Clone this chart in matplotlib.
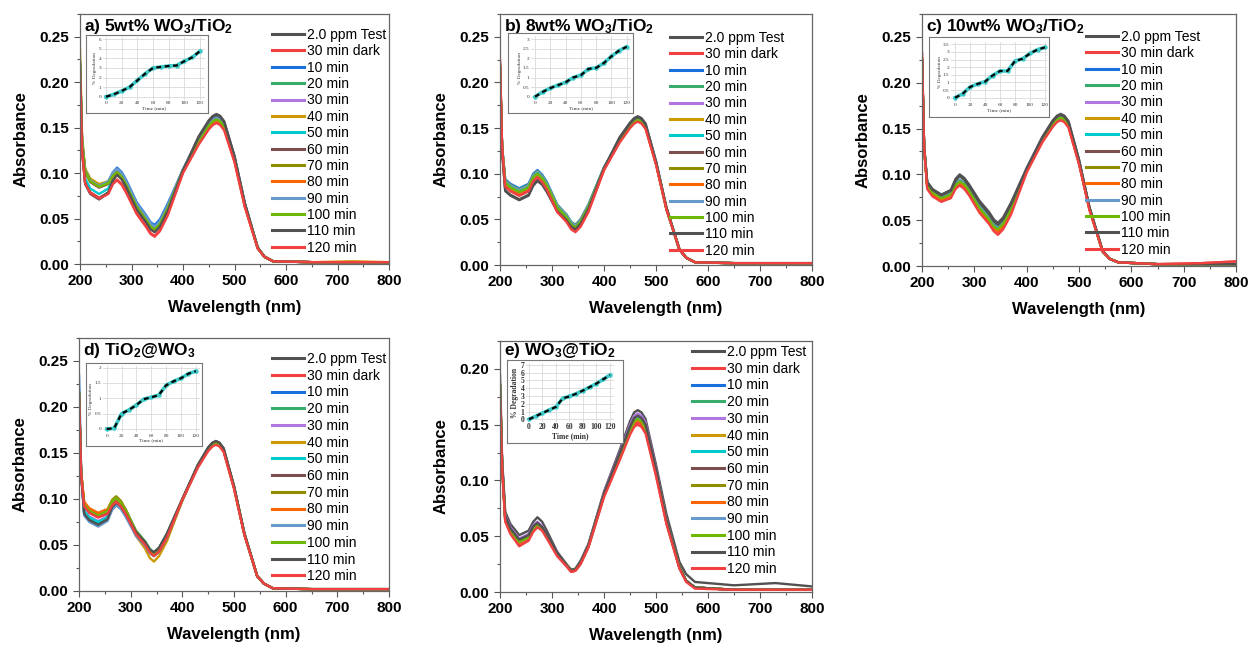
import matplotlib.pyplot as plt
from matplotlib.ticker import MultipleLocator, FormatStrFormatter

plt.rcParams['font.family'] = 'Liberation Sans'
plt.rcParams['mathtext.fontset'] = 'custom'
plt.rcParams['mathtext.rm'] = 'Liberation Sans'
plt.rcParams['mathtext.bf'] = 'Liberation Sans:bold'
plt.rcParams['mathtext.default'] = 'bf'

wl = [200, 204, 210, 220, 237, 255, 264, 272, 281, 290, 310, 328, 337, 345, 355, 370,
      400, 430, 450, 458, 465, 472, 480, 500, 520, 545, 558, 575, 650, 730, 800]

labels = ['2.0 ppm Test', '30 min dark', '10 min', '20 min', '30 min', '40 min',
          '50 min', '60 min', '70 min', '80 min', '90 min', '100 min', '110 min',
          '120 min']
colors = ['#515151', '#F14040', '#1A6FDF', '#37AD6B', '#B177DE', '#CC9900',
          '#00CBCC', '#7D4E4E', '#8E8E00', '#FB6501', '#6699CC', '#6FB802',
          '#515151', '#F14040']

abs_a = [
    [.215, .125, .088, .077, .071, .078, .093, .099, .094, .085, .061, .047, .039, .036, .042, .059, .103, .140, .158, .163, .165, .163, .157, .119, .067, .018, .008, .003, .002, .002, .002],
    [.212, .125, .090, .079, .073, .078, .089, .093, .088, .079, .056, .042, .034, .031, .037, .054, .101, .132, .149, .154, .156, .154, .148, .113, .063, .017, .008, .003, .002, .002, .002],
    [.222, .135, .103, .092, .086, .091, .101, .106, .101, .092, .068, .054, .046, .043, .049, .066, .104, .137, .155, .160, .162, .160, .154, .117, .066, .018, .008, .003, .002, .002, .002],
    [.220, .134, .102, .091, .085, .090, .099, .103, .098, .089, .065, .051, .043, .040, .046, .063, .104, .136, .154, .159, .161, .159, .153, .116, .066, .018, .008, .003, .002, .002, .002],
    [.220, .134, .102, .091, .085, .089, .099, .103, .098, .089, .065, .051, .043, .040, .046, .063, .104, .136, .154, .159, .161, .159, .153, .116, .066, .018, .008, .003, .002, .002, .002],
    [.237, .140, .105, .094, .088, .091, .098, .101, .096, .087, .063, .049, .041, .038, .044, .061, .103, .135, .153, .158, .160, .158, .152, .116, .065, .018, .008, .003, .002, .003, .002],
    [.218, .130, .094, .083, .077, .083, .095, .100, .095, .086, .063, .049, .041, .038, .044, .061, .103, .135, .153, .158, .160, .158, .152, .116, .065, .018, .008, .003, .002, .002, .002],
    [.220, .133, .101, .090, .084, .088, .097, .101, .096, .087, .063, .049, .041, .038, .044, .061, .103, .135, .153, .158, .160, .158, .152, .116, .065, .018, .008, .003, .002, .002, .002],
    [.220, .134, .103, .092, .086, .090, .097, .100, .095, .086, .062, .048, .040, .037, .043, .060, .103, .134, .152, .157, .159, .157, .151, .115, .065, .018, .008, .003, .002, .002, .002],
    [.218, .133, .102, .091, .085, .089, .096, .099, .094, .085, .061, .047, .039, .036, .042, .059, .102, .133, .151, .156, .158, .156, .150, .114, .064, .018, .008, .003, .002, .002, .002],
    [.222, .135, .103, .092, .086, .091, .101, .105, .100, .091, .067, .053, .045, .041, .047, .064, .104, .136, .154, .159, .161, .159, .153, .116, .066, .018, .008, .003, .002, .002, .002],
    [.220, .134, .102, .091, .085, .089, .097, .101, .096, .087, .063, .049, .041, .038, .044, .061, .103, .134, .152, .157, .159, .157, .151, .115, .065, .018, .008, .003, .002, .002, .002],
    [.215, .126, .089, .078, .072, .079, .092, .098, .093, .084, .060, .046, .038, .035, .041, .058, .103, .139, .157, .162, .164, .162, .156, .118, .067, .018, .008, .003, .002, .002, .002],
    [.212, .124, .089, .078, .072, .077, .088, .092, .087, .078, .055, .041, .033, .030, .036, .053, .100, .131, .148, .153, .155, .153, .147, .112, .063, .017, .008, .003, .002, .002, .002],
]

abs_b = [
    [.215, .125, .081, .076, .071, .076, .087, .092, .088, .080, .059, .049, .042, .039, .045, .061, .106, .140, .156, .161, .163, .161, .155, .114, .063, .017, .008, .003, .002, .002, .002],
    [.222, .128, .086, .081, .076, .081, .092, .096, .091, .083, .059, .048, .040, .037, .043, .059, .104, .135, .151, .156, .158, .156, .150, .111, .061, .017, .008, .003, .002, .002, .002],
    [.218, .130, .094, .089, .084, .089, .100, .104, .099, .091, .066, .055, .047, .044, .050, .066, .107, .137, .153, .158, .160, .158, .152, .112, .062, .017, .008, .003, .002, .002, .002],
    [.218, .130, .093, .088, .083, .088, .099, .103, .098, .090, .066, .055, .047, .044, .050, .066, .107, .137, .153, .158, .160, .158, .152, .112, .062, .017, .008, .003, .002, .002, .002],
    [.218, .129, .092, .087, .082, .087, .098, .102, .097, .089, .065, .054, .046, .043, .049, .065, .106, .137, .153, .158, .160, .158, .152, .112, .062, .017, .008, .003, .002, .002, .002],
    [.218, .129, .091, .086, .081, .086, .097, .101, .096, .088, .064, .053, .045, .042, .048, .064, .106, .137, .153, .158, .160, .158, .152, .112, .062, .017, .008, .003, .002, .002, .002],
    [.218, .129, .091, .086, .081, .086, .097, .101, .096, .088, .064, .053, .045, .042, .048, .064, .106, .137, .153, .158, .160, .158, .152, .112, .062, .017, .008, .003, .002, .002, .002],
    [.218, .128, .089, .084, .079, .084, .095, .099, .094, .086, .062, .051, .044, .041, .047, .063, .106, .137, .153, .158, .160, .158, .152, .112, .062, .017, .008, .003, .002, .002, .002],
    [.218, .128, .090, .085, .080, .085, .096, .100, .095, .087, .063, .052, .044, .041, .047, .063, .105, .136, .152, .157, .159, .157, .151, .111, .062, .017, .008, .003, .002, .002, .002],
    [.220, .128, .088, .083, .078, .083, .094, .098, .093, .085, .061, .050, .042, .039, .045, .061, .105, .136, .152, .157, .159, .157, .151, .111, .062, .017, .008, .003, .002, .002, .002],
    [.218, .128, .090, .085, .080, .085, .096, .100, .095, .087, .063, .052, .044, .041, .047, .063, .105, .137, .153, .158, .160, .158, .152, .112, .062, .017, .008, .003, .002, .002, .002],
    [.218, .128, .090, .085, .080, .085, .096, .100, .095, .087, .063, .052, .044, .041, .047, .063, .105, .136, .152, .157, .159, .157, .151, .111, .062, .017, .008, .003, .002, .002, .002],
    [.215, .125, .082, .077, .072, .077, .088, .093, .089, .081, .059, .049, .042, .039, .045, .061, .106, .139, .155, .160, .162, .160, .154, .113, .063, .017, .008, .003, .002, .002, .002],
    [.225, .130, .086, .081, .076, .081, .092, .096, .091, .083, .058, .047, .039, .036, .042, .058, .104, .134, .150, .155, .157, .155, .149, .110, .061, .017, .008, .003, .002, .002, .002],
]

abs_c = [
    [.225, .130, .092, .084, .078, .083, .095, .100, .096, .089, .071, .059, .051, .047, .053, .069, .107, .141, .159, .164, .166, .164, .158, .116, .064, .017, .008, .004, .002, .002, .002],
    [.232, .132, .086, .078, .072, .077, .087, .091, .087, .080, .061, .049, .041, .037, .043, .059, .103, .136, .153, .158, .160, .158, .152, .112, .062, .016, .008, .004, .002, .003, .005],
    [.225, .130, .090, .082, .076, .080, .089, .093, .090, .083, .065, .053, .045, .042, .048, .064, .105, .139, .156, .161, .163, .161, .155, .114, .063, .016, .008, .004, .002, .002, .002],
    [.225, .130, .090, .082, .076, .080, .090, .094, .091, .084, .066, .054, .046, .042, .048, .064, .105, .139, .156, .161, .163, .161, .155, .114, .063, .016, .008, .004, .002, .002, .002],
    [.225, .130, .089, .081, .075, .079, .089, .093, .090, .083, .064, .052, .044, .041, .047, .063, .105, .139, .156, .161, .163, .161, .155, .114, .063, .016, .008, .004, .002, .002, .002],
    [.225, .129, .088, .080, .074, .078, .088, .092, .089, .082, .063, .051, .043, .040, .046, .062, .104, .138, .155, .160, .162, .160, .154, .113, .063, .016, .008, .004, .002, .002, .002],
    [.225, .130, .089, .081, .075, .079, .089, .093, .090, .083, .064, .052, .044, .041, .047, .063, .105, .138, .155, .160, .162, .160, .154, .113, .063, .016, .008, .004, .002, .002, .002],
    [.225, .129, .088, .080, .074, .078, .088, .092, .089, .082, .063, .051, .043, .040, .046, .062, .104, .138, .155, .160, .162, .160, .154, .113, .063, .016, .008, .004, .002, .002, .002],
    [.225, .129, .087, .079, .073, .077, .087, .091, .088, .081, .062, .050, .042, .039, .045, .061, .104, .137, .154, .159, .161, .159, .153, .113, .062, .016, .008, .004, .002, .002, .002],
    [.225, .128, .086, .078, .072, .076, .086, .090, .087, .080, .061, .049, .041, .038, .044, .060, .104, .137, .154, .159, .161, .159, .153, .113, .062, .016, .008, .004, .002, .002, .002],
    [.225, .130, .089, .081, .075, .079, .089, .093, .090, .083, .064, .052, .044, .041, .047, .063, .105, .138, .155, .160, .162, .160, .154, .113, .063, .016, .008, .004, .002, .002, .002],
    [.225, .129, .088, .080, .074, .078, .088, .092, .089, .082, .063, .051, .043, .040, .046, .062, .104, .138, .155, .160, .162, .160, .154, .113, .063, .016, .008, .004, .002, .002, .002],
    [.225, .130, .091, .083, .077, .082, .093, .098, .094, .087, .069, .057, .049, .045, .051, .067, .106, .140, .158, .163, .165, .163, .157, .116, .064, .017, .008, .004, .002, .002, .002],
    [.232, .131, .084, .076, .070, .074, .084, .088, .084, .077, .058, .046, .038, .034, .040, .056, .102, .135, .152, .157, .159, .157, .151, .111, .061, .016, .008, .004, .002, .003, .005],
]

abs_d = [
    [.215, .128, .086, .079, .074, .079, .091, .096, .092, .084, .064, .053, .045, .042, .047, .062, .100, .137, .156, .161, .163, .161, .155, .114, .063, .016, .008, .003, .002, .002, .002],
    [.210, .128, .092, .085, .080, .084, .093, .097, .092, .084, .062, .051, .043, .039, .044, .059, .099, .135, .153, .158, .160, .158, .152, .112, .062, .016, .008, .003, .002, .002, .002],
    [.235, .135, .083, .076, .071, .077, .089, .094, .090, .082, .062, .051, .043, .040, .045, .060, .099, .136, .154, .159, .161, .159, .153, .113, .062, .016, .008, .003, .002, .002, .002],
    [.205, .126, .095, .088, .083, .088, .098, .102, .097, .089, .066, .054, .046, .042, .047, .062, .099, .136, .154, .159, .161, .159, .153, .113, .062, .016, .008, .003, .002, .002, .002],
    [.215, .129, .088, .081, .076, .081, .092, .096, .092, .084, .062, .051, .043, .040, .045, .060, .099, .136, .154, .159, .161, .159, .153, .113, .062, .016, .008, .003, .002, .002, .002],
    [.215, .129, .094, .087, .082, .087, .097, .101, .096, .086, .060, .046, .036, .032, .038, .054, .098, .136, .154, .159, .161, .159, .153, .113, .062, .016, .008, .003, .002, .002, .002],
    [.215, .129, .087, .080, .075, .080, .092, .097, .092, .084, .062, .050, .042, .038, .043, .058, .099, .136, .154, .159, .161, .159, .153, .113, .062, .016, .008, .003, .002, .002, .002],
    [.215, .129, .093, .086, .081, .086, .096, .100, .095, .086, .063, .050, .042, .038, .043, .058, .099, .136, .154, .159, .161, .159, .153, .113, .062, .016, .008, .003, .002, .002, .002],
    [.215, .129, .095, .088, .083, .088, .099, .103, .098, .089, .065, .053, .044, .040, .045, .060, .099, .136, .154, .159, .161, .159, .153, .113, .062, .016, .008, .003, .002, .002, .002],
    [.215, .130, .097, .090, .085, .089, .097, .101, .096, .087, .064, .051, .043, .039, .044, .059, .099, .136, .154, .159, .161, .159, .153, .113, .062, .016, .008, .003, .002, .002, .002],
    [.220, .130, .082, .075, .070, .076, .088, .093, .089, .081, .060, .049, .041, .038, .043, .058, .099, .136, .154, .159, .161, .159, .153, .113, .062, .016, .008, .003, .002, .002, .002],
    [.215, .129, .094, .087, .082, .087, .097, .101, .096, .087, .064, .051, .043, .039, .044, .059, .099, .136, .154, .159, .161, .159, .153, .113, .062, .016, .008, .003, .002, .002, .002],
    [.215, .128, .084, .077, .072, .078, .091, .096, .092, .084, .064, .053, .045, .042, .047, .062, .100, .137, .156, .161, .163, .161, .155, .114, .063, .016, .008, .003, .002, .002, .002],
    [.210, .128, .092, .085, .080, .084, .093, .097, .092, .084, .062, .050, .042, .038, .043, .058, .099, .134, .152, .157, .159, .157, .151, .111, .061, .016, .008, .003, .002, .002, .002],
]

abs_e = [
    [.195, .120, .072, .061, .051, .055, .063, .067, .063, .055, .036, .025, .020, .021, .028, .043, .090, .127, .153, .161, .163, .161, .155, .114, .070, .027, .016, .009, .006, .008, .005],
    [.175, .112, .064, .053, .042, .047, .055, .059, .056, .049, .033, .023, .018, .019, .025, .040, .086, .119, .143, .150, .152, .150, .144, .105, .062, .022, .010, .004, .002, .002, .002],
    [.185, .115, .067, .056, .046, .050, .058, .061, .058, .051, .034, .024, .019, .020, .026, .041, .088, .123, .147, .155, .157, .155, .149, .109, .064, .022, .010, .004, .002, .002, .002],
    [.185, .115, .067, .056, .046, .050, .058, .061, .058, .051, .034, .024, .019, .020, .026, .041, .088, .123, .147, .155, .157, .155, .149, .109, .064, .022, .010, .004, .002, .002, .002],
    [.185, .116, .069, .058, .048, .052, .060, .063, .059, .052, .035, .024, .019, .020, .027, .042, .089, .125, .150, .158, .160, .158, .152, .111, .065, .022, .010, .004, .002, .002, .002],
    [.185, .115, .066, .055, .045, .049, .057, .060, .057, .050, .034, .024, .019, .020, .026, .041, .087, .121, .145, .153, .155, .153, .147, .108, .063, .022, .010, .004, .002, .002, .002],
    [.185, .115, .066, .055, .045, .049, .057, .060, .057, .050, .034, .024, .019, .020, .026, .041, .087, .121, .145, .153, .155, .153, .147, .108, .063, .022, .010, .004, .002, .002, .002],
    [.185, .115, .067, .056, .046, .050, .058, .061, .058, .051, .034, .024, .019, .020, .026, .041, .088, .123, .147, .155, .157, .155, .149, .109, .064, .022, .010, .004, .002, .002, .002],
    [.185, .115, .066, .055, .045, .049, .057, .060, .057, .050, .034, .024, .019, .020, .026, .041, .087, .121, .145, .153, .155, .153, .147, .108, .063, .022, .010, .004, .002, .002, .002],
    [.185, .115, .065, .054, .044, .049, .057, .060, .057, .050, .034, .024, .019, .020, .026, .041, .087, .121, .144, .152, .154, .152, .146, .107, .063, .022, .010, .004, .002, .002, .002],
    [.185, .115, .066, .055, .045, .049, .057, .060, .057, .050, .034, .024, .019, .020, .026, .041, .087, .122, .146, .154, .156, .154, .148, .108, .063, .022, .010, .004, .002, .002, .002],
    [.185, .115, .066, .055, .045, .049, .057, .060, .057, .050, .034, .024, .019, .020, .026, .041, .087, .121, .145, .153, .155, .153, .147, .108, .063, .022, .010, .004, .002, .002, .002],
    [.185, .116, .068, .057, .047, .051, .059, .062, .058, .052, .035, .024, .019, .020, .027, .042, .088, .124, .148, .156, .158, .156, .150, .110, .064, .022, .010, .004, .002, .002, .002],
    [.175, .111, .063, .052, .041, .046, .054, .058, .055, .048, .032, .023, .018, .019, .025, .040, .085, .118, .141, .148, .150, .148, .142, .104, .061, .021, .009, .003, .002, .002, .002],
]

# inset: % degradation vs time (min)
t_min = [0, 10, 20, 30, 40, 50, 60, 70, 80, 90, 100, 110, 120]
deg_a = [0, 0.25, 0.6, 1.0, 1.7, 2.4, 3.0, 3.1, 3.2, 3.25, 3.7, 4.1, 4.75]
deg_b = [0, 0.25, 0.45, 0.6, 0.75, 1.0, 1.12, 1.45, 1.5, 1.75, 2.1, 2.4, 2.6]
deg_c = [0, 0.25, 0.7, 0.9, 1.05, 1.45, 1.75, 1.75, 2.4, 2.55, 2.9, 3.15, 3.3]
deg_d = [0, 0.02, 0.5, 0.62, 0.78, 0.97, 1.03, 1.1, 1.42, 1.55, 1.65, 1.8, 1.88]
deg_e = [0, 0.4, 0.8, 1.2, 1.6, 2.7, 2.95, 3.3, 3.7, 4.15, 4.6, 5.15, 5.7]

titles = [r'a) 5wt% WO$_3$/TiO$_2$', r'b) 8wt% WO$_3$/TiO$_2$',
          r'c) 10wt% WO$_3$/TiO$_2$', r'd) TiO$_2$@WO$_3$', r'e) WO$_3$@TiO$_2$']

W, H = 1251, 645


def rect(x0, y0, x1, y1):
    return [x0 / W, 1 - y1 / H, (x1 - x0) / W, (y1 - y0) / H]


fig = plt.figure(figsize=(W / 100, H / 100), dpi=100)

# layout in pixels: axes box, ylim top, legend anchor, inset outer box, inset inner box,
# inset xlim, ylim, ytick step
layout = [
    dict(ax=(80, 14, 389, 264), ytop=0.275, leg=(272, 28), title_y=27, lsp=0.17,
         box=(86, 35, 208, 113), inner=(102.9, 37.2, 204.7, 99.6),
         ixl=(-4, 126), iyl=(-0.3, 6.2), ystep=1, bold=False),
    dict(ax=(500, 14, 812, 265), ytop=0.275, leg=(670, 31), title_y=27, lsp=0.17,
         box=(508, 33, 633, 113), inner=(531.2, 36.2, 630.5, 99.6),
         ixl=(-5, 125), iyl=(-0.15, 3.15), ystep=0.5, bold=False),
    dict(ax=(922, 14, 1236, 266), ytop=0.275, leg=(1086, 30), title_y=27, lsp=0.17,
         box=(929, 37, 1049, 117), inner=(951.3, 42, 1046.5, 101.5),
         ixl=(-5, 122), iyl=(-0.25, 3.65), ystep=0.5, bold=False),
    dict(ax=(79, 338, 389, 591), ytop=0.275, leg=(272, 352), title_y=350, lsp=0.195,
         box=(86, 363, 202, 446), inner=(103, 366, 199.5, 432),
         ixl=(-5, 125), iyl=(-0.1, 2.05), ystep=0.5, bold=False),
    dict(ax=(500, 341, 812, 592), ytop=0.225, leg=(692, 345), title_y=350, lsp=0.195,
         box=(507, 360, 623, 443), inner=(526.3, 363.4, 614, 421.6),
         ixl=(-4, 126), iyl=(-0.3, 7.2), ystep=1, bold=True),
]
spectra = [abs_a, abs_b, abs_c, abs_d, abs_e]
degs = [deg_a, deg_b, deg_c, deg_d, deg_e]

for k in range(5):
    L = layout[k]
    x0, y0, x1, y1 = L['ax']
    ax = fig.add_axes(rect(x0, y0, x1, y1))
    for i in range(14):
        ax.plot(wl, spectra[k][i], color=colors[i], lw=1.7, label=labels[i],
                solid_joinstyle='round')
    ax.set_xlim(200, 800)
    ax.set_ylim(0, L['ytop'])
    ax.xaxis.set_major_locator(MultipleLocator(100))
    ax.xaxis.set_minor_locator(MultipleLocator(50))
    ax.yaxis.set_major_locator(MultipleLocator(0.05))
    ax.yaxis.set_minor_locator(MultipleLocator(0.025))
    ax.yaxis.set_major_formatter(FormatStrFormatter('%.2f'))
    ax.tick_params(which='major', direction='out', length=4, width=0.8,
                   labelsize=11, color='#555555')
    ax.tick_params(which='minor', direction='out', length=2.5, width=0.8,
                   color='#555555')
    for lab in ax.get_xticklabels() + ax.get_yticklabels():
        lab.set_fontweight('bold')
    for s in ax.spines.values():
        s.set_color('#666666')
        s.set_linewidth(0.9)
    ax.set_xlabel('Wavelength (nm)', fontsize=12, fontweight='bold', labelpad=8)
    ax.set_ylabel('Absorbance', fontsize=12, fontweight='bold', labelpad=8)
    ax.text(0.012, (y1 - L['title_y']) / (y1 - y0), titles[k], transform=ax.transAxes,
            fontsize=12.5, fontweight='bold', va='center', ha='left')
    lx, ly = L['leg']
    leg = ax.legend(loc='upper left', bbox_to_anchor=(lx / W, 1 - ly / H),
                    bbox_transform=fig.transFigure, frameon=False, fontsize=10,
                    borderpad=0, borderaxespad=0, handlelength=2.3,
                    handletextpad=0.2, labelspacing=L['lsp'])
    for line in leg.get_lines():
        line.set_linewidth(2.2)

    # inset: outer frame
    bx0, by0, bx1, by1 = L['box']
    box = fig.add_axes(rect(bx0, by0, bx1, by1))
    box.set_xticks([])
    box.set_yticks([])
    for s in box.spines.values():
        s.set_color('#777777')
        s.set_linewidth(0.8)

    ix0, iy0, ix1, iy1 = L['inner']
    ins = fig.add_axes(rect(ix0, iy0, ix1, iy1))
    ins.plot(t_min, degs[k], color='#3EC9C9', lw=2.6, marker='o', ms=3.2,
             markeredgewidth=0, zorder=3)
    ins.plot(t_min, degs[k], color='black', lw=1.6, ls=(0, (2.2, 1.6)), zorder=4)
    ins.set_xlim(*L['ixl'])
    ins.set_ylim(*L['iyl'])
    ins.xaxis.set_major_locator(MultipleLocator(20))
    ins.yaxis.set_major_locator(MultipleLocator(L['ystep']))
    ins.yaxis.set_major_formatter(FormatStrFormatter('%g'))
    ins.grid(True, color='#d9d9d9', lw=0.6)
    ins.set_axisbelow(True)
    for s in ins.spines.values():
        s.set_visible(False)
    fw = 'bold' if L['bold'] else 'normal'
    fs = 5.5 if L['bold'] else 3.8
    ins.tick_params(length=0, pad=1.2, labelsize=fs, labelcolor='#333333')
    for lab in ins.get_xticklabels() + ins.get_yticklabels():
        lab.set_fontfamily('Liberation Serif')
        lab.set_fontweight(fw)
    ins.set_xlabel('Time (min)', fontsize=fs, family='Liberation Serif',
                   fontweight=fw, labelpad=0.5, color='#333333')
    ins.set_ylabel('% Degradation', fontsize=fs, family='Liberation Serif',
                   fontweight=fw, labelpad=1, color='#333333')

fig.savefig('out.png', dpi=100)
